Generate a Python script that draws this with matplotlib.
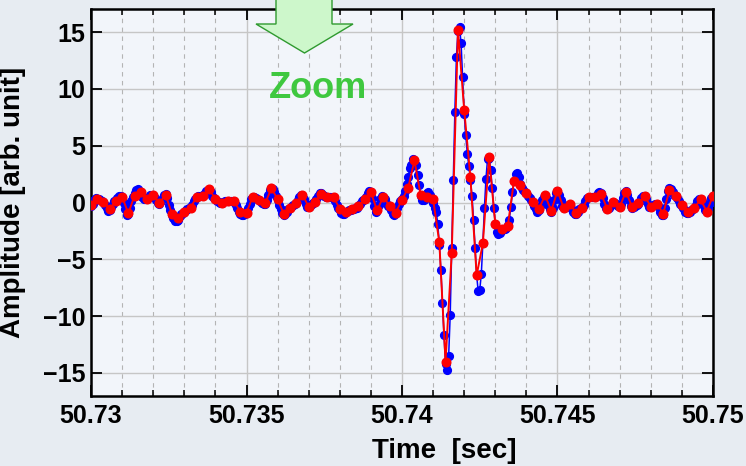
import numpy as np
import matplotlib
matplotlib.use("Agg")
import matplotlib.pyplot as plt
from matplotlib.patches import Polygon
from matplotlib.ticker import FixedLocator, MultipleLocator

plt.rcParams['font.family'] = ['Liberation Sans', 'DejaVu Sans']
plt.rcParams['font.weight'] = 'bold'

# ---------------------------------------------------------------------------
# data
# ---------------------------------------------------------------------------
t0 = 50.73
dt_red = 0.0002     # coarse samples (red)
dt_blue = 0.00005   # fine samples (blue)

red_amp = [
    -0.25, 0.3, 0.08, -0.6, 0.15, 0.5, -0.95, 0.6, 0.9, 0.3,
    0.65, -0.05, 0.7, -1.0, -1.4, -0.8, -0.45, 0.5, 0.6, 1.15,
    0.33, 0.0, 0.12, 0.1, -0.8, -0.9, 0.5, 0.2, -0.08, 1.25,
    0.3, -1.02, -0.45, -0.05, 0.7, -0.4, 0.05, 0.75, 0.5, 0.45,
    -0.55, -0.85, -0.6, -0.35, 0.3, 0.9, -0.7, 0.52, -0.3, -0.88,
    0.23, 1.3, 3.7, 0.65, 0.52, 0.3, -3.5, -14.0, -4.4, 15.2,
    8.15, 2.2, -6.4, -3.6, 4.0, -1.9, -2.35, -2.1, 1.9, 1.5,
    0.82, 0.05, -0.58, 0.63, -0.72, 1.02, -0.5, -0.15, -0.9, -0.5,
    0.45, 0.45, 0.78, -0.56, 0.05, -0.37, 0.95, -0.4, -0.08, 0.6,
    -0.37, -0.1, -1.0, 1.12, 0.6, -0.2, -0.85, -0.48, 0.27, -0.8,
    0.6,
]

blue_amp = [
    -0.3, -0.1, 0.2, 0.4, 0.35, 0.3, 0.2, 0.1, 0.05, -0.2,
    -0.5, -0.75, -0.7, -0.4, -0.1, 0.1, 0.2, 0.4, 0.6, 0.6,
    0.5, 0.0, -0.6, -1.1, -1.0, -0.5, 0.1, 0.5, 0.8, 1.1,
    1.2, 1.0, 0.8, 0.5, 0.3, 0.3, 0.35, 0.5, 0.65, 0.7,
    0.6, 0.4, 0.2, 0.0, -0.1, 0.1, 0.4, 0.7, 0.75, 0.4,
    -0.2, -0.7, -1.1, -1.4, -1.6, -1.6, -1.5, -1.2, -1.0, -0.9,
    -0.8, -0.7, -0.6, -0.5, -0.4, -0.2, 0.1, 0.3, 0.5, 0.6,
    0.6, 0.6, 0.65, 0.8, 1.0, 1.1, 1.1, 0.9, 0.6, 0.4,
    0.3, 0.15, 0.05, 0.0, 0.0, 0.05, 0.1, 0.15, 0.1, 0.1,
    0.15, 0.15, 0.05, -0.2, -0.5, -0.8, -1.0, -1.1, -1.1, -1.0,
    -0.8, -0.5, -0.1, 0.3, 0.5, 0.5, 0.4, 0.3, 0.2, 0.1,
    -0.05, -0.1, -0.1, 0.2, 0.7, 1.1, 1.3, 1.2, 0.9, 0.6,
    0.2, -0.2, -0.6, -0.9, -1.1, -1.0, -0.8, -0.6, -0.45, -0.35,
    -0.25, -0.15, -0.05, 0.2, 0.5, 0.7, 0.6, 0.3, -0.1, -0.4,
    -0.4, -0.3, -0.1, 0.0, 0.1, 0.35, 0.6, 0.8, 0.8, 0.7,
    0.6, 0.5, 0.5, 0.5, 0.5, 0.5, 0.4, 0.1, -0.2, -0.5,
    -0.7, -0.9, -1.0, -1.0, -0.85, -0.75, -0.7, -0.65, -0.6, -0.55,
    -0.5, -0.45, -0.3, -0.1, 0.1, 0.2, 0.3, 0.5, 0.8, 1.0,
    0.9, 0.4, -0.3, -0.8, -0.6, -0.2, 0.3, 0.6, 0.5, 0.3,
    0.0, -0.3, -0.4, -0.7, -1.0, -1.1, -0.9, -0.5, -0.1, 0.1,
    0.3, 0.6, 1.0, 1.6, 2.2, 3.0, 3.3, 3.8, 3.7, 3.3,
    2.4, 1.5, 0.6, 0.2, 0.2, 0.5, 0.8, 0.9, 0.7, 0.2,
    0.0, -0.5, -0.8, -1.9, -3.7, -5.9, -8.8, -11.7, -14.2, -14.7,
    -13.5, -9.9, -4.0, 2.0, 8.0, 12.8, 15.1, 15.4, 14.0, 11.0,
    7.8, 5.9, 4.3, 3.2, 2.0, 0.6, -1.5, -4.0, -6.4, -7.8,
    -7.7, -6.3, -3.6, -0.5, 2.1, 3.8, 3.9, 2.9, 1.3, -0.5,
    -1.9, -2.6, -2.8, -2.7, -2.4, -2.3, -2.3, -2.2, -2.0, -1.5,
    -0.4, 0.9, 1.9, 2.5, 2.6, 2.2, 1.6, 1.3, 1.1, 0.9,
    0.8, 0.6, 0.4, 0.2, 0.0, -0.3, -0.6, -0.8, -0.7, -0.3,
    0.2, 0.5, 0.6, 0.3, -0.2, -0.6, -0.8, -0.5, 0.2, 0.8,
    1.0, 0.7, 0.2, -0.3, -0.5, -0.4, -0.3, -0.2, -0.2, -0.5,
    -0.8, -1.0, -1.0, -0.8, -0.6, -0.5, -0.5, -0.2, 0.1, 0.4,
    0.5, 0.5, 0.5, 0.5, 0.5, 0.6, 0.8, 0.9, 0.8, 0.4,
    -0.1, -0.5, -0.6, -0.5, -0.3, -0.1, 0.05, 0.0, -0.2, -0.35,
    -0.4, -0.1, 0.4, 0.8, 1.0, 0.7, 0.2, -0.3, -0.45, -0.4,
    -0.3, -0.2, -0.1, 0.1, 0.4, 0.6, 0.6, 0.3, -0.1, -0.4,
    -0.4, -0.3, -0.2, -0.15, -0.15, -0.4, -0.8, -1.1, -1.1, -0.5,
    0.3, 1.0, 1.3, 1.2, 0.9, 0.7, 0.6, 0.4, 0.1, -0.1,
    -0.3, -0.5, -0.8, -0.9, -0.9, -0.8, -0.7, -0.55, -0.45, -0.2,
    0.1, 0.3, 0.3, 0.1, -0.3, -0.7, -0.85, -0.5, 0.0, 0.4,
    0.6,
]

xticks = [50.73, 50.735, 50.74, 50.745, 50.75]
xtick_labels = ['50.73', '50.735', '50.74', '50.745', '50.75']
yticks = [-15, -10, -5, 0, 5, 10, 15]
ytick_labels = ['\u221215', '\u221210', '\u22125', '0', '5', '10', '15']

t_red = t0 + dt_red * np.arange(len(red_amp))
t_blue = t0 + dt_blue * np.arange(len(blue_amp))

# ---------------------------------------------------------------------------
# figure
# ---------------------------------------------------------------------------
W, H = 746, 466
fig = plt.figure(figsize=(W / 100, H / 100), dpi=100)
fig.patch.set_facecolor('#e7ecf2')
ax = fig.add_axes([91 / W, 1 - 395.7 / H, (713 - 91) / W, (395.7 - 9.3) / H])
ax.set_facecolor('#f2f5fa')

ax.plot(t_blue, blue_amp, '-o', color='#0000ff', lw=1.1, ms=5.6,
        mec='#0000ff', mfc='#0000ff', zorder=3)
ax.plot(t_red, red_amp, '-o', color='#ff0000', lw=1.4, ms=6.2,
        mec='#ff0000', mfc='#ff0000', zorder=4)

ax.set_xlim(50.73, 50.75)
ax.set_ylim(-17, 17)
ax.xaxis.set_major_locator(FixedLocator(xticks))
ax.set_xticklabels(xtick_labels)
ax.xaxis.set_minor_locator(MultipleLocator(0.001))
ax.yaxis.set_major_locator(FixedLocator(yticks))
ax.set_yticklabels(ytick_labels)

ax.tick_params(which='both', direction='in', top=True, right=True,
               labelsize=18, colors='black')
ax.tick_params(which='major', length=8, width=1.3, pad=6)
ax.tick_params(which='minor', length=4, width=1.1)
ax.tick_params(axis='y', which='major', pad=4)

ax.set_axisbelow(True)
ax.grid(which='major', color='#c6c6c6', lw=1.0, ls='-')
ax.grid(which='minor', axis='x', color='#b4b4b4', lw=0.8, ls=(0, (4, 4)))

for sp in ax.spines.values():
    sp.set_linewidth(1.8)
    sp.set_color('black')

ax.set_xlabel('Time  [sec]', fontsize=20, fontweight='bold')
ax.xaxis.set_label_coords((444 - 91) / 622, -0.11)
ax.set_ylabel('Amplitude [arb. unit]', fontsize=20, fontweight='bold')
ax.yaxis.set_label_coords(-0.105, 0.5)

# green "zoom" arrow coming in from the top
arrow_px = [(276, -5), (276, 24), (256, 24), (304.5, 53),
            (353, 24), (332, 24), (332, -5)]
arrow_pts = [(x / W, 1 - y / H) for x, y in arrow_px]
fig.patches.append(Polygon(arrow_pts, closed=True, transform=fig.transFigure,
                           facecolor='#cdf7cb', edgecolor='#2f9a2f', lw=1.0,
                           zorder=5))
fig.text(318 / W, 1 - 88 / H, 'Zoom', color='#3fc83f', fontsize=26,
         fontweight='bold', ha='center', va='center', zorder=6)

fig.savefig('out.png', dpi=100, facecolor=fig.get_facecolor())
